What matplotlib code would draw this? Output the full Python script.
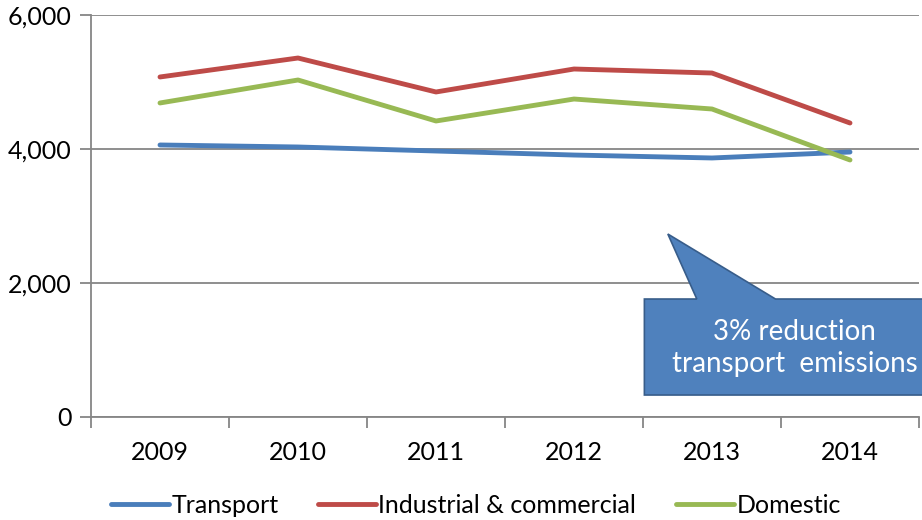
import numpy as np
import matplotlib.pyplot as plt
from matplotlib.patches import Polygon

plt.rcParams['font.family'] = ['Lato', 'DejaVu Sans']

# Data
years = ['2009', '2010', '2011', '2012', '2013', '2014']
transport = [4060, 4030, 3970, 3910, 3866, 3955]
industrial = [5075, 5358, 4851, 5194, 5134, 4388]
domestic = [4687, 5030, 4418, 4746, 4597, 3836]

callout_text = '3% reduction\ntransport  emissions'

grey = '#868686'

fig = plt.figure(figsize=(9.22, 5.2), dpi=100)
ax = fig.add_axes([91/922, 103/520, 828/922, 402/520])

x = np.arange(len(years))
ax.plot(x, transport, color='#4A7EBB', lw=3.5, label='Transport', solid_capstyle='round')
ax.plot(x, industrial, color='#BE4B48', lw=3.5, label='Industrial & commercial', solid_capstyle='round')
ax.plot(x, domestic, color='#98B954', lw=3.5, label='Domestic', solid_capstyle='round')

ax.set_xlim(-0.5, len(years) - 0.5)
ax.set_ylim(0, 6000)
ax.set_yticks([0, 2000, 4000, 6000])
ax.set_yticklabels(['0', '2,000', '4,000', '6,000'])
ax.yaxis.grid(True, color=grey, lw=1.3)
ax.set_axisbelow(True)

# category ticks at boundaries, labels at centres
ax.set_xticks(np.arange(-0.5, len(years)), minor=False)
ax.set_xticklabels([''] * (len(years) + 1))
ax.set_xticks(x, minor=True)
ax.set_xticklabels(years, minor=True)
ax.tick_params(axis='x', which='major', length=8, color=grey, width=1.3, direction='out')
ax.tick_params(axis='x', which='minor', length=0, pad=17, labelsize=18)
ax.tick_params(axis='y', length=8, color=grey, width=1.3, labelsize=18, pad=6)

for s in ['top', 'right']:
    ax.spines[s].set_visible(False)
for s in ['left', 'bottom']:
    ax.spines[s].set_color(grey)
    ax.spines[s].set_linewidth(1.3)

# callout shape (data coordinates)
shape = [(3.51, 1761), (3.89, 1761), (3.68, 2731), (4.46, 1761),
         (5.70, 1761), (5.70, 328), (3.51, 328)]
ax.add_patch(Polygon(shape, closed=True, facecolor='#4F81BD', edgecolor='#385D8A',
                     lw=1.2, clip_on=False, zorder=5))
ax.text(4.60, 1030, callout_text, ha='center', va='center', color='white',
        fontsize=20, linespacing=1.3, zorder=6, clip_on=False)

leg = ax.legend(loc='lower center', bbox_to_anchor=(0.465, -0.305), ncol=3, frameon=False,
                fontsize=18, handlelength=2.3, handletextpad=0.1, columnspacing=1.6)

fig.savefig('out.png', dpi=100)
